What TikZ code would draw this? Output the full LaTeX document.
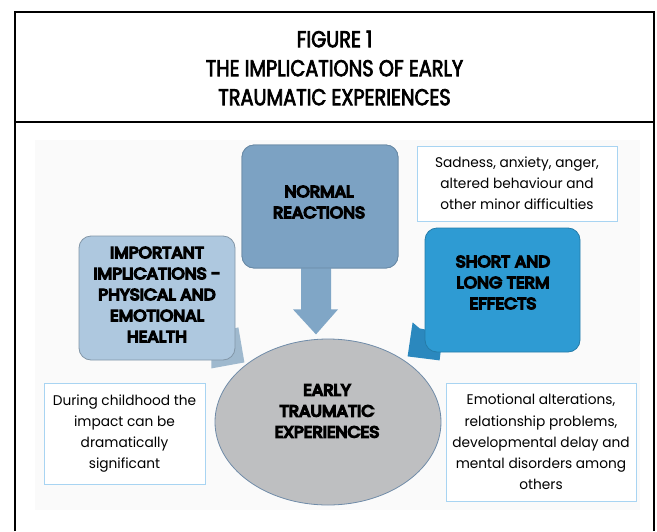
\documentclass[tikz,border=0pt]{standalone}
\usepackage{fontspec}
\setmainfont{Poppins}
\newfontfamily\headfont{Poppins}[FakeStretch=0.84, FakeBold=3]
\newfontfamily\boxfont{Poppins}[FakeStretch=1.06, FakeBold=9]
\newfontfamily\bodyfont{Poppins}[FakeStretch=0.98]
\usetikzlibrary{calc,shapes.geometric}

\definecolor{panelbg}{HTML}{FAFAFA}
\definecolor{normalcol}{HTML}{7CA2C3}
\definecolor{arrowcol}{HTML}{80A6C6}
\definecolor{implcol}{HTML}{AEC8DF}
\definecolor{impltail}{HTML}{9FB9CE}
\definecolor{effectcol}{HTML}{2E9BD3}
\definecolor{effecttail}{HTML}{2B88BE}
\definecolor{earlycol}{HTML}{BEBFC1}
\definecolor{earlyedge}{HTML}{6F8BA8}
\definecolor{notecol}{HTML}{A8D4F2}

\tikzset{
  x=1pt, y=-1pt,
  bluebox/.style={rounded corners=12pt, inner sep=0pt, line width=0.8pt},
  boxtext/.style={align=center, inner sep=0pt,
    font=\boxfont\fontsize{16}{21}\selectfont},
  notebox/.style={draw=notecol, line width=1pt, fill=white, inner sep=0pt,
    align=center, font=\bodyfont\fontsize{14}{21.2}\selectfont},
  headtxt/.style={align=center, inner sep=0pt,
    font=\headfont\fontsize{23}{29}\selectfont},
}

\begin{document}
\begin{tikzpicture}
\useasboundingbox (0,0) rectangle (657,531);

% light panel behind the diagram
\fill[panelbg] (35,140) rectangle (640,510);

% outer frame and title strip
\draw[line width=2.2pt] (15,531) -- (15,12) -- (654,12) -- (654,531);
\draw[line width=2.2pt] (15,122) -- (654,122);
\node[headtxt] (title) at (334.5,68)
  {FIGURE 1\\THE IMPLICATIONS OF EARLY\\TRAUMATIC EXPERIENCES};

% central ellipse
\node[ellipse, draw=earlyedge, line width=0.8pt, fill=earlycol,
      minimum width=226pt, minimum height=166pt, inner sep=0pt]
  (early) at (328,422) {};
\node[boxtext] (earlytxt) at (327,411) {EARLY\\TRAUMATIC\\EXPERIENCES};

% normal reactions box with its down arrow
\node[bluebox, fill=normalcol, draw=normalcol!85!black,
      minimum width=156pt, minimum height=123pt] (normal) at (320,206.5) {};
\path (normal.south) ++(-4,0) coordinate (arrowtop);
\fill[arrowcol] ($(arrowtop)+(-15,-8)$) -- ($(arrowtop)+(15,-8)$)
  -- ($(arrowtop)+(15,41)$) -- ($(arrowtop)+(22,41)$)
  -- ($(arrowtop)+(0,66)$) -- ($(arrowtop)+(-23,41)$)
  -- ($(arrowtop)+(-15,41)$) -- cycle;
\node[bluebox, fill=normalcol, draw=normalcol!85!black,
      minimum width=156pt, minimum height=123pt] at (normal.center) {};
\node[boxtext] (normaltxt) at (319,202) {NORMAL\\REACTIONS};

% important implications callout
\node[bluebox, minimum width=156pt, minimum height=124pt] (impl) at (157,298) {};
\fill[impltail] ($(impl.south east)+(-10,-30)$) -- ($(impl.south east)+(3,-33)$)
  -- ($(impl.south east)+(9,2)$) -- ($(impl.south east)+(-24,8)$)
  -- ($(impl.south east)+(-24,-5)$) -- cycle;
\node[bluebox, fill=implcol, draw=implcol!75!black,
      minimum width=156pt, minimum height=124pt] at (impl.center) {};
\node[boxtext] (impltxt) at (157,294.5)
  {IMPORTANT\\IMPLICATIONS -\\PHYSICAL AND\\EMOTIONAL\\HEALTH};

% short and long term effects callout
\node[bluebox, minimum width=155pt, minimum height=124pt] (effects) at (502.5,290) {};
\fill[effecttail] ($(effects.south west)+(-12,-30)$) -- ($(effects.south west)+(-5,-24)$)
  -- ($(effects.south west)+(5,-22)$) -- ($(effects.south west)+(16,0)$)
  -- ($(effects.south west)+(15,8)$) -- ($(effects.south west)+(-17,4)$) -- cycle;
\node[bluebox, fill=effectcol, draw=effectcol!80!black,
      minimum width=155pt, minimum height=124pt] at (effects.center) {};
\node[boxtext] (effectstxt) at (503,282.5) {SHORT AND\\LONG TERM\\EFFECTS};

% plain note boxes
\node[notebox, minimum width=200pt, minimum height=75pt] (sad) at (517,183.5)
  {Sadness, anxiety, anger,\\altered behaviour and\\other minor difficulties};
\node[notebox, minimum width=161pt, minimum height=101pt] (during) at (124.5,433.5)
  {During childhood the\\impact can be\\dramatically\\significant};
\node[notebox, minimum width=190pt, minimum height=118pt] (emo) at (541,442)
  {Emotional alterations,\\relationship problems,\\developmental delay and\\mental disorders among\\others};
\end{tikzpicture}
\end{document}
